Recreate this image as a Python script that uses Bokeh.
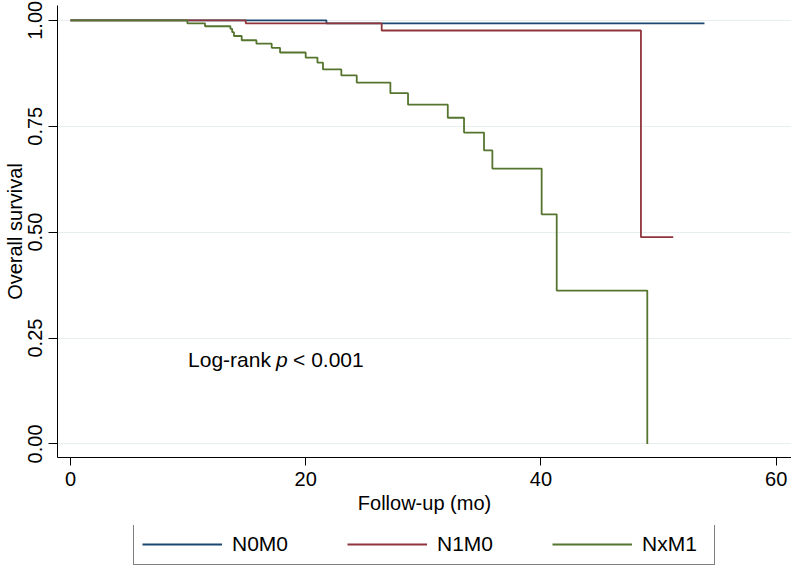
from bokeh.plotting import figure
from bokeh.layouts import column
from bokeh.models import Range1d, FixedTicker, NumeralTickFormatter, Legend, LegendItem
from bokeh.core.properties import value
from bokeh.embed import file_html
from bokeh.resources import INLINE

# Kaplan-Meier estimates (months, survival)
n0m0_time = [0.0, 21.76, 53.9]
n0m0_surv = [1.0, 0.993, 0.993]

n1m0_time = [0.0, 14.9, 26.46, 48.5, 51.25]
n1m0_surv = [1.0, 0.993, 0.976, 0.488, 0.488]

nxm1_time = [0.0, 9.94, 11.44, 13.6, 13.75, 13.9, 14.56, 15.81, 17.11, 17.82,
             20.0, 21.0, 21.47, 23.03, 24.34, 27.2, 28.7, 32.08, 33.46, 35.16,
             35.87, 40.06, 41.34, 49.04]
nxm1_surv = [1.0, 0.993, 0.986, 0.980, 0.972, 0.963, 0.953, 0.945, 0.935, 0.924,
             0.912, 0.900, 0.884, 0.870, 0.853, 0.828, 0.801, 0.770, 0.735, 0.693,
             0.650, 0.542, 0.362, 0.0]

group_names = ["N0M0", "N1M0", "NxM1"]
group_colors = ["#1a476f", "#90353b", "#55752f"]

x_ticks = [0, 20, 40, 60]
y_ticks = [0.0, 0.25, 0.5, 0.75, 1.0]

FONT = "Liberation Sans"

fig = figure(width=791, height=525, output_backend="svg", toolbar_location=None,
             x_range=Range1d(-1.1, 61.3), y_range=Range1d(-0.032, 1.035),
             min_border_left=57, min_border_right=0, min_border_top=5, min_border_bottom=68)
fig.outline_line_color = None
fig.background_fill_color = "white"
fig.border_fill_color = "white"

series = [(n0m0_time, n0m0_surv), (n1m0_time, n1m0_surv), (nxm1_time, nxm1_surv)]
for (t, s), name, col in zip(series, group_names, group_colors):
    fig.step(t, s, mode="after", line_color=col, line_width=1.8)

# axes
fig.xaxis.ticker = FixedTicker(ticks=x_ticks)
fig.yaxis.ticker = FixedTicker(ticks=y_ticks)
fig.yaxis.formatter = NumeralTickFormatter(format="0.00")
for ax in (fig.xaxis[0], fig.yaxis[0]):
    ax.major_label_text_font = FONT
    ax.major_label_text_font_size = "20px"
    ax.major_label_text_color = "black"
    ax.axis_label_text_font = FONT
    ax.axis_label_text_font_size = "20px"
    ax.axis_label_text_font_style = "normal"
    ax.axis_label_text_color = "black"
    ax.axis_line_color = "black"
    ax.axis_line_width = 1
    ax.major_tick_line_color = "black"
    ax.major_tick_in = 0
    ax.minor_tick_line_color = None
fig.xaxis.axis_label = "Follow-up (mo)"
fig.yaxis.axis_label = "Overall survival"
fig.xaxis.major_tick_out = 8
fig.yaxis.major_tick_out = 9
fig.xaxis.major_label_standoff = 6
fig.xaxis.axis_label_standoff = 3
fig.yaxis.major_label_orientation = "vertical"
fig.yaxis.major_label_standoff = 6
fig.yaxis.axis_label_standoff = 0

fig.xgrid.grid_line_color = None
fig.ygrid.grid_line_color = "#e6eef0"
fig.ygrid.grid_line_width = 1.2

# annotation
fig.text(x=[10], y=[0.2], text=["Log-rank"], text_font=value(FONT), text_font_size="21px",
         text_baseline="middle", text_align="left", text_color="black")
fig.text(x=[10], y=[0.2], text=["p"], x_offset=88, text_font=value(FONT), text_font_size="21px",
         text_font_style="italic", text_baseline="middle", text_align="left", text_color="black")
fig.text(x=[10], y=[0.2], text=["< 0.001"], x_offset=105, text_font=value(FONT), text_font_size="21px",
         text_baseline="middle", text_align="left", text_color="black")

# legend strip below the plot; its ranges lie outside the data, so only the legend shows
leg_fig = figure(width=791, height=43, output_backend="svg", toolbar_location=None,
                 x_range=Range1d(100, 101), y_range=Range1d(100, 101),
                 x_axis_location=None, y_axis_location=None, min_border=0)
leg_fig.outline_line_color = None
leg_fig.xgrid.grid_line_color = None
leg_fig.ygrid.grid_line_color = None
items = []
for (t, s), name, col in zip(series, group_names, group_colors):
    r = leg_fig.step(t, s, mode="after", line_color=col, line_width=1.8)
    items.append(LegendItem(label=name, renderers=[r]))
legend = Legend(items=items, orientation="horizontal", location=(76, 3),
                glyph_width=80, glyph_height=20, label_standoff=10, label_width=64,
                spacing=51, padding=8, margin=0,
                label_text_font=FONT, label_text_font_size="21px", label_text_color="black",
                border_line_color="black", border_line_width=1, background_fill_alpha=1)
leg_fig.add_layout(legend, "center")

p = column(fig, leg_fig, spacing=0)

open("out.html", "w").write(file_html(p, INLINE))
